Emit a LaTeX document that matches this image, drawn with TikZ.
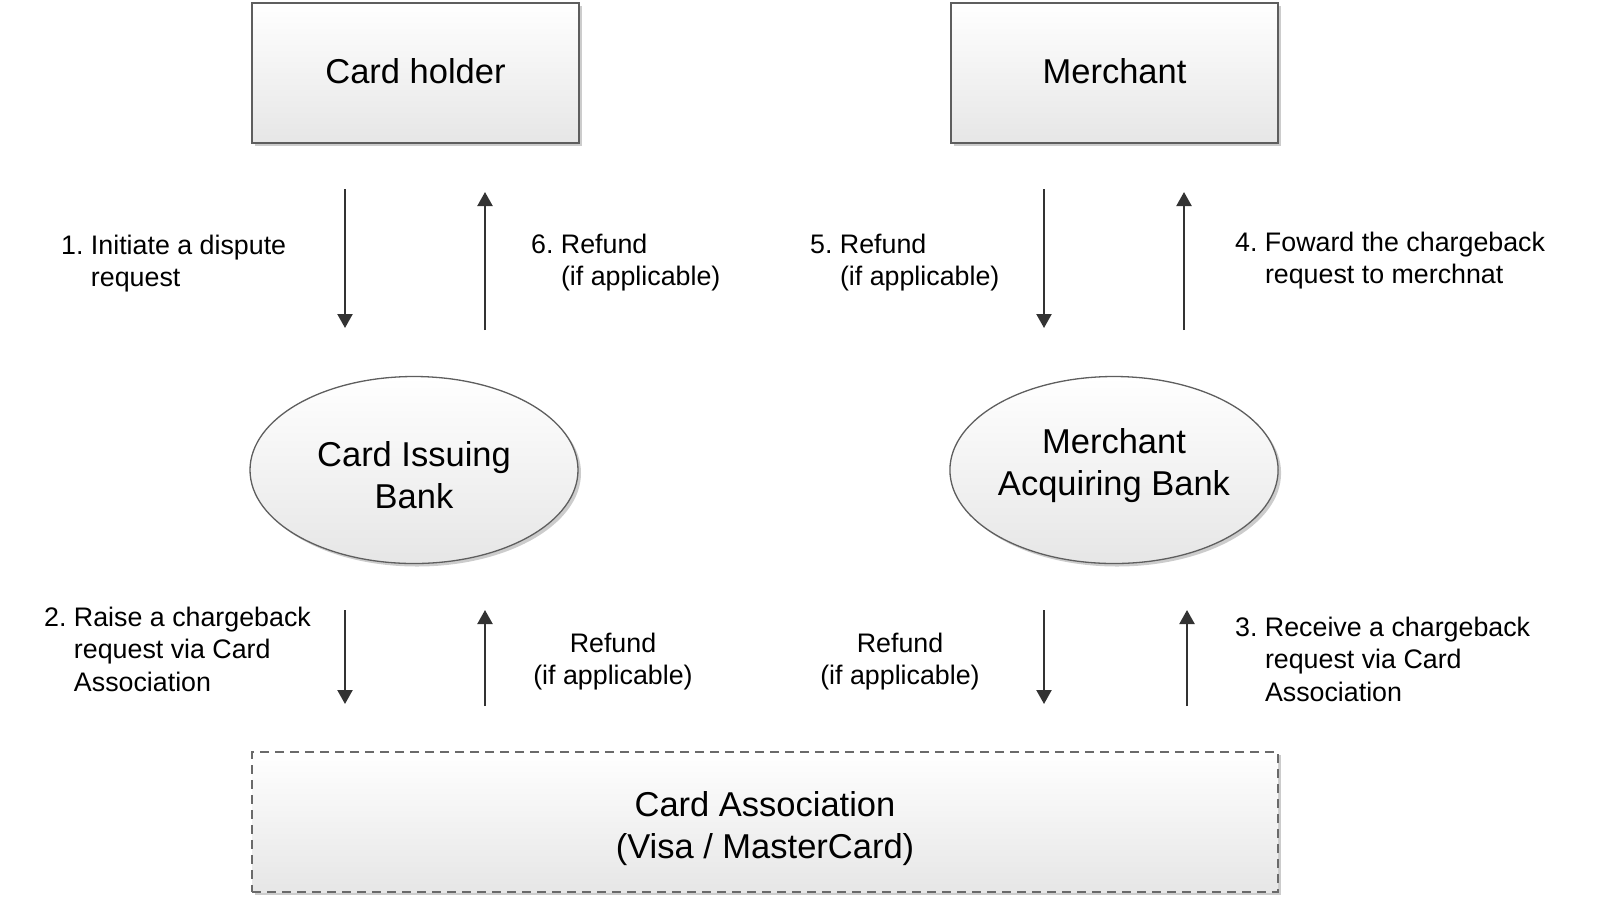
\documentclass[tikz,border=0pt]{standalone}
\usepackage{fontspec}
\setmainfont{Liberation Sans}
\frenchspacing
\usetikzlibrary{shapes.geometric,arrows.meta,shadows}
\definecolor{edgegray}{HTML}{5E5E5E}
\definecolor{fillbot}{HTML}{E6E6E6}
\definecolor{arrgray}{HTML}{333333}
\definecolor{dashgray}{HTML}{6A6A6A}
\newcommand\bigtxt{\fontsize{34.5}{41.5}\selectfont}
\newcommand\lbltxt{\fontsize{26.8}{32.5}\selectfont}
\tikzset{
  shade3d/.style={top color=white, bottom color=fillbot,
    drop shadow={shadow xshift=3pt, shadow yshift=-3pt, fill=black!20, opacity=1}},
  entity/.style={shade3d, draw=edgegray, line width=1.5pt, rectangle,
    minimum width=327pt, minimum height=140pt, inner sep=0pt,
    font=\bigtxt, align=center, text height=25pt, text depth=5pt},
  bank/.style={shade3d, draw=edgegray, line width=1.3pt, ellipse,
    minimum width=328pt, minimum height=187pt, inner sep=0pt,
    font=\bigtxt, align=center},
  assoc/.style={shade3d, draw=dashgray, line width=2pt, dash pattern=on 9pt off 6pt,
    rectangle, minimum width=1026pt, minimum height=140pt, inner sep=0pt,
    font=\bigtxt, align=center, text height=72pt, text depth=0pt},
  lbl/.style={font=\lbltxt, align=left, anchor=base west, inner sep=0pt},
  lblc/.style={font=\lbltxt, align=center, anchor=base, inner sep=0pt},
  flow/.style={draw=arrgray, line width=2.2pt, -{Triangle[width=15pt,length=14pt]}}
}
\begin{document}
\begin{tikzpicture}[x=1pt,y=-1pt]
\useasboundingbox (0,0) rectangle (1600,898);
% entities
\node[entity] (ch) at (415.5,73) {Card holder};
\node[entity] (me) at (1114.5,73) {Merchant};
\node[bank, text height=76pt, text depth=0pt] (cib) at (414,470) {Card Issuing\\Bank};
\node[bank, text height=50pt, text depth=0pt] (mab) at (1114,470) {Merchant\\Acquiring Bank};
\node[assoc] (ca) at (765,822) {Card Association\\(Visa / MasterCard)};
% arrow end points
\coordinate (a1t) at (345,189);  \coordinate (a1b) at (345,328);
\coordinate (a6b) at (485,330);  \coordinate (a6t) at (485,192);
\coordinate (a5t) at (1044,189); \coordinate (a5b) at (1044,328);
\coordinate (a4b) at (1184,330); \coordinate (a4t) at (1184,192);
\coordinate (a2t) at (345,610);  \coordinate (a2b) at (345,704);
\coordinate (r1b) at (485,706);  \coordinate (r1t) at (485,610);
\coordinate (r2t) at (1044,610); \coordinate (r2b) at (1044,704);
\coordinate (a3b) at (1187,706); \coordinate (a3t) at (1187,610);
% arrows
\draw[flow] (a1t) -- (a1b);
\draw[flow] (a6b) -- (a6t);
\draw[flow] (a5t) -- (a5b);
\draw[flow] (a4b) -- (a4t);
\draw[flow] (a2t) -- (a2b);
\draw[flow] (r1b) -- (r1t);
\draw[flow] (r2t) -- (r2b);
\draw[flow] (a3b) -- (a3t);
% labels (anchored at the baseline of their last line)
\node[lbl] (l1) at (61,286.5) {1. Initiate a dispute\\\hphantom{1. }request};
\node[lbl] (l6) at (531,285.5) {6. Refund\\\hphantom{6. }(if applicable)};
\node[lbl] (l5) at (810,285.5) {5. Refund\\\hphantom{5. }(if applicable)};
\node[lbl] (l4) at (1235,283.5) {4. Foward the chargeback\\\hphantom{4. }request to merchnat};
\node[lbl] (l2) at (44,691) {2. Raise a chargeback\\\hphantom{2. }request via Card\\\hphantom{2. }Association};
\node[lbl] (l3) at (1235,701) {3. Receive a chargeback\\\hphantom{3. }request via Card\\\hphantom{3. }Association};
\node[lblc] (lr1) at (613,684.5) {Refund\\(if applicable)};
\node[lblc] (lr2) at (900,684.5) {Refund\\(if applicable)};
\end{tikzpicture}
\end{document}
